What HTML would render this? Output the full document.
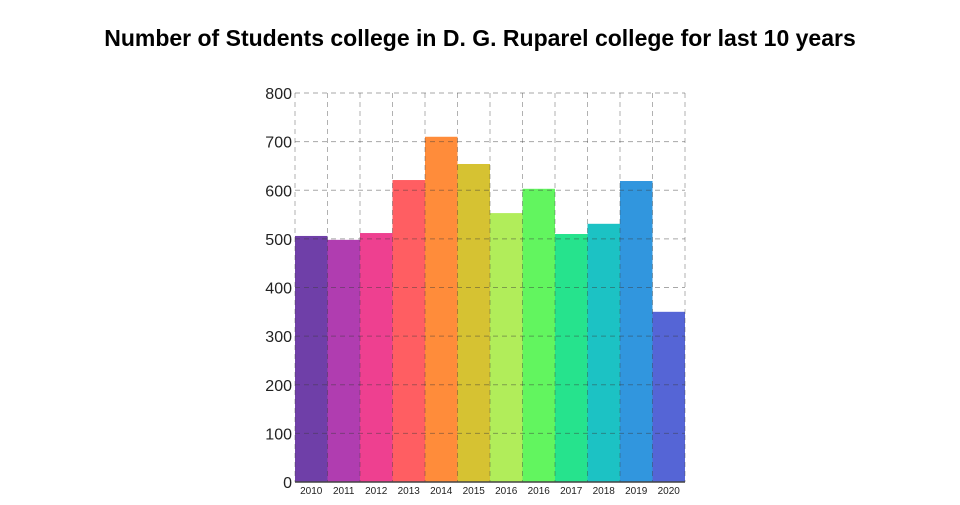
<!DOCTYPE html>
<html><head><meta charset="utf-8"><style>
body{margin:0;background:#fff;font-family:"Liberation Sans",sans-serif}
</style></head><body>
<svg width="960" height="500">
<text x="480" y="46" text-anchor="middle" font-size="23" font-weight="bold" fill="#000">Number of Students college in D. G. Ruparel college for last 10 years</text>
<g id="bars"></g><g id="grid"></g><g id="axes"></g>
</svg>
<script>
const categories=["2010","2011","2012","2013","2014","2015","2016","2016","2017","2018","2019","2020"];
const values=[506,498,512,621,710,654,553,603,510,531,619,350];
const colors=["#6f3fa8","#b03db0","#ee4090","#ff5e62","#ff8c3a","#d6c232","#b1ed5a","#62f55f","#26e38d","#1cc2c4","#3196de","#5565d6"];
const yTicks=[0,100,200,300,400,500,600,700,800];
const L=295,R=685,T=93,B=482,YMAX=800;
const NS="http://www.w3.org/2000/svg";
const bw=(R-L)/categories.length;
const y=v=>B-(v/YMAX)*(B-T);
const x=i=>L+i*bw;
function mk(t,a,p){const e=document.createElementNS(NS,t);for(const k in a)e.setAttribute(k,a[k]);p.appendChild(e);return e;}
const gb=document.getElementById('bars'),gg=document.getElementById('grid'),ga=document.getElementById('axes');
values.forEach((v,i)=>{
 const r=mk('rect',{x:x(i),y:y(v),width:bw,height:B-y(v),fill:colors[i]},gb);
 
 
 const t=mk('text',{x:x(i)+bw/2,y:494,'text-anchor':'middle','font-size':'10',fill:'#222'},ga);
 t.textContent=categories[i];
 
 
});
yTicks.forEach(v=>{
 const l=mk('line',{x1:L,x2:R,y1:y(v),y2:y(v),stroke:'rgba(60,60,60,0.45)','stroke-dasharray':'5,4','stroke-width':1},gg);
 
 
 const t=mk('text',{x:L-3,y:y(v)+6,'text-anchor':'end','font-size':'16',fill:'#222'},ga);
 t.textContent=v;
 
 
});
for(let i=0;i<=categories.length;i++){
 const l=mk('line',{x1:x(i),x2:x(i),y1:T,y2:B,stroke:'rgba(60,60,60,0.4)','stroke-dasharray':'5,4','stroke-width':1},gg);
 
 
}
const ax=mk('line',{x1:L,x2:R,y1:B,y2:B,stroke:'#444','stroke-width':1.5},ga);


</script>
</body></html>
